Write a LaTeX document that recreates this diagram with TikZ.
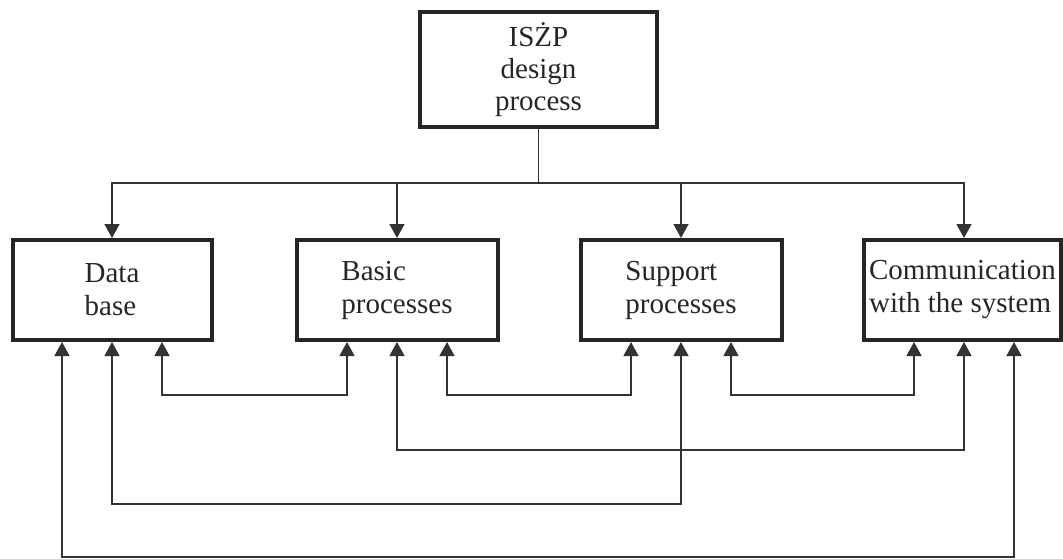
\documentclass[tikz,border=0pt]{standalone}
\usepackage{fontspec}
\setmainfont{Liberation Serif}
\usetikzlibrary{arrows.meta}
\begin{document}
\begin{tikzpicture}[x=1pt, y=-1pt]

\tikzstyle{box}=[rectangle, draw=black!85, line width=4pt, minimum height=100pt, align=left, font=\fontsize{29}{33}\selectfont, text=black!85]
\tikzstyle{arrow}=[-{Triangle[width=15pt,length=14pt]}, line width=1.5pt, draw=black!80]
\tikzstyle{biarrow}=[{Triangle[width=15pt,length=14pt]}-{Triangle[width=15pt,length=14pt]}, line width=1.5pt, draw=black!80]

\useasboundingbox (0,0) rectangle (1063,558);

\node (T) [box, align=center, minimum width=237pt, minimum height=115pt, font=\fontsize{29}{32}\selectfont] at (538.5,69.5) {IS\.{Z}P\\design\\process};

\node (A) [box, minimum width=199pt] at (112,290) {Data\\base};
\node (B) [box, minimum width=201pt] at (397,290) {Basic\\processes};
\node (C) [box, minimum width=201pt] at (681,290) {Support\\processes};
\node (D) [box, minimum width=197pt] at (962.5,290) {Communication\\with the system};

\coordinate (J) at (538.5,183);

% from the design process down to the four parts
\draw [line width=1.5pt, draw=black!80] (T) -- (J);
\draw [arrow] (J) -| (A.north);
\draw [arrow] (J) -| (B.north);
\draw [arrow] (J) -| ([xshift=0pt]C.north);
\draw [arrow] (J) -| ([xshift=1.5pt]D.north);

% links between the parts
\draw [biarrow] ([xshift=50pt]A.south) |- (263,395) -| ([xshift=-50pt]B.south);
\draw [biarrow] ([xshift=50pt]B.south) |- (540,395) -| ([xshift=-50pt]C.south);
\draw [biarrow] ([xshift=50pt]C.south) |- (820,395) -| ([xshift=-48.5pt]D.south);
\draw [biarrow] (B.south) |- (680,450) -| ([xshift=1.5pt]D.south);
\draw [biarrow] (A.south) |- (400,504) -| (C.south);
\draw [biarrow] ([xshift=-50pt]A.south) |- (540,557) -| ([xshift=51.5pt]D.south);

\end{tikzpicture}
\end{document}
